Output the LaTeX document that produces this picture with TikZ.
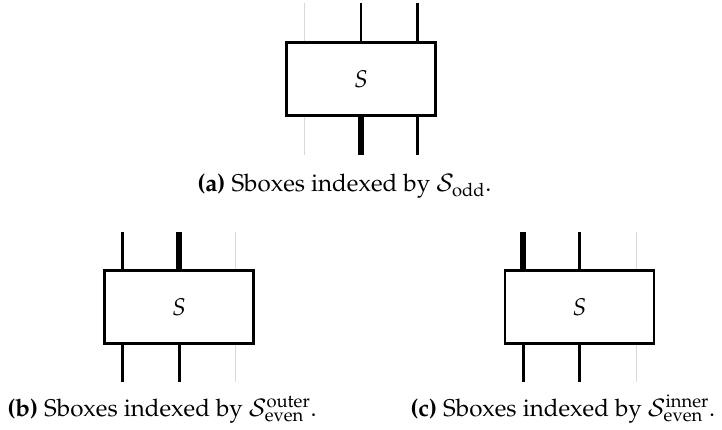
\documentclass[tikz,border=0pt]{standalone}
\usepackage[T1]{fontenc}
\usepackage{mathpazo}
\begin{document}
\begin{tikzpicture}[x=0.6pt,y=-0.6pt,
  sbox/.style={draw,line width=1.6pt,inner sep=0pt,minimum width=89.5pt,minimum height=43.8pt,font=\fontsize{14.5}{17}\selectfont},
  wire/.style={line width=1.6pt},
  thickwire/.style={line width=3.6pt},
  ghost/.style={line width=0.5pt,draw=black!15},
  captext/.style={anchor=base west,inner sep=0pt,font=\fontsize{14.5}{17}\selectfont}]
\useasboundingbox (0,0) rectangle (722,430);
% (a)
\node[sbox] (boxa) at (361,78.9) {$S$};
\coordinate (ta1) at (304.3,3); \coordinate (ta2) at (361,3); \coordinate (ta3) at (417.7,3);
\coordinate (ba1) at (304.3,155); \coordinate (ba2) at (361,155); \coordinate (ba3) at (417.7,155);
\draw[ghost] (boxa.north -| ta1) -- (ta1);
\draw[wire] (boxa.north -| ta2) -- (ta2);
\draw[wire] (boxa.north -| ta3) -- (ta3);
\draw[ghost] (boxa.south -| ba1) -- (ba1);
\draw[thickwire] (boxa.south -| ba2) -- (ba2);
\draw[wire] (boxa.south -| ba3) -- (ba3);
\node[captext] (capa) at (197,191) {\textbf{(a)} Sboxes indexed by $\mathcal{S}_{\mathrm{odd}}$.};
% (b)
\node[sbox] (boxb) at (179.2,307) {$S$};
\coordinate (tb1) at (122.3,231.7); \coordinate (tb2) at (179.2,231.7); \coordinate (tb3) at (235.9,231.7);
\coordinate (bb1) at (122.3,382); \coordinate (bb2) at (179.2,382); \coordinate (bb3) at (235.9,382);
\draw[wire] (boxb.north -| tb1) -- (tb1);
\draw[thickwire] (boxb.north -| tb2) -- (tb2);
\draw[ghost] (boxb.north -| tb3) -- (tb3);
\draw[wire] (boxb.south -| bb1) -- (bb1);
\draw[wire] (boxb.south -| bb2) -- (bb2);
\draw[ghost] (boxb.south -| bb3) -- (bb3);
\node[captext] (capb) at (7,416) {\textbf{(b)} Sboxes indexed by $\mathcal{S}_{\mathrm{even}}^{\mathrm{outer}}$.};
% (c)
\node[sbox] (boxc) at (579.5,307) {$S$};
\coordinate (tc1) at (523.3,231.7); \coordinate (tc2) at (579.5,231.7); \coordinate (tc3) at (636.7,231.7);
\coordinate (bc1) at (523.3,382); \coordinate (bc2) at (579.5,382); \coordinate (bc3) at (636.7,382);
\draw[thickwire] (boxc.north -| tc1) -- (tc1);
\draw[wire] (boxc.north -| tc2) -- (tc2);
\draw[ghost] (boxc.north -| tc3) -- (tc3);
\draw[wire] (boxc.south -| bc1) -- (bc1);
\draw[wire] (boxc.south -| bc2) -- (bc2);
\draw[ghost] (boxc.south -| bc3) -- (bc3);
\node[captext] (capc) at (410,416) {\textbf{(c)} Sboxes indexed by $\mathcal{S}_{\mathrm{even}}^{\mathrm{inner}}$.};
\end{tikzpicture}
\end{document}
